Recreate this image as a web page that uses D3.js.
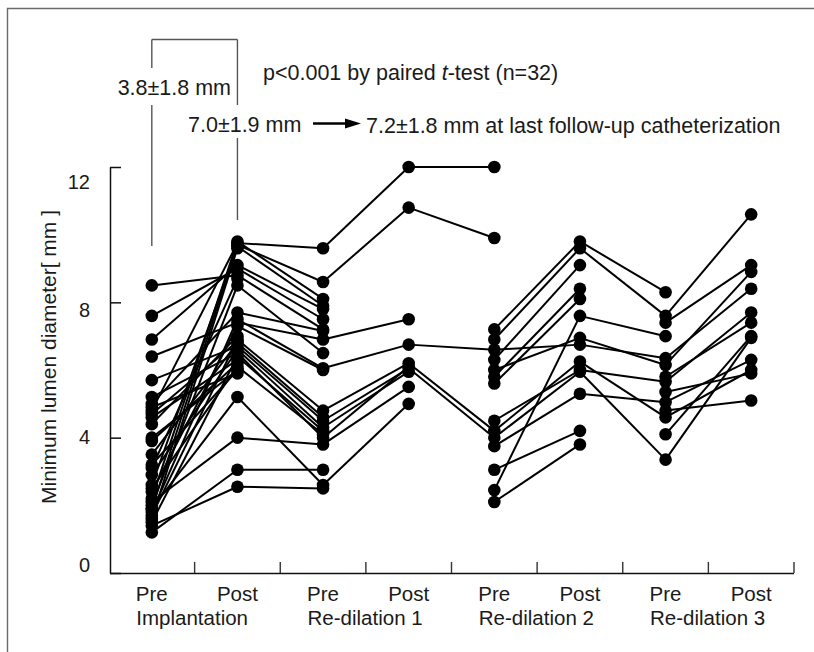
<!DOCTYPE html>
<html>
<head>
<meta charset="utf-8">
<script src="https://cdn.jsdelivr.net/npm/d3@7"></script>
<style>
  body { margin: 0; background: #fff; }
  text { font-family: "Liberation Sans", Arial, Helvetica, sans-serif; fill: #1a1a1a; }
</style>
</head>
<body>
<svg id="chart" width="814" height="652"></svg>
<script>
// categories on the x axis, one column per catheterization
const columns = ["preImplant", "postImplant", "preRedil1", "postRedil1", "preRedil2", "postRedil2", "preRedil3", "postRedil3"];
const phaseLabels = ["Pre", "Post", "Pre", "Post", "Pre", "Post", "Pre", "Post"];
const groupLabels = ["Implantation", "Re-dilation 1", "Re-dilation 2", "Re-dilation 3"];
const yTicks = [0, 4, 8, 12];

// minimum lumen diameter (mm), one entry per patient (n=32), null = no measurement
const preImplant  = [2.2, 4.8, 1.9, 2.6, 1.6, 6.9, 7.6, 8.5, 3.1, 2.0, 5.0, 1.8, 6.4, 2.4, 4.4, 1.7,
                     4.7, 3.5, 5.7, 2.9, 5.2, 1.5, 4.6, 3.9, 2.5, 4.0, 3.2, 4.9, 1.9, 2.1, 1.2, 1.4];
const postImplant = [9.8, 9.75, 9.7, 9.65, 9.6, 9.1, 9.0, 8.8, 8.7, 8.5, 7.7, 7.5, 7.4, 7.3, 7.0, 6.9,
                     6.85, 6.8, 6.7, 6.6, 6.5, 6.4, 6.3, 6.2, 6.1, 6.0, 6.0, 5.9, 5.2, 4.0, 3.05, 2.55];
const preRedil1   = [8.1, 9.6, 8.6, 7.9, null, 7.8, 7.5, 7.2, null, 6.5, 7.15, 6.05, 6.9, 6.0, null, 4.8,
                     null, 4.6, 4.5, 4.3, 4.0, 4.2, null, null, 4.1, null, null, null, 2.6, 3.8, 3.05, 2.5];
const postRedil1  = [null, 12.0, 10.8, null, null, null, null, null, null, null, null, 6.75, 7.5, null, null, 6.2,
                     null, null, 6.05, 5.95, 6.1, null, null, null, null, null, null, null, 5.0, 5.5, null, null];
const preRedil2   = [7.2, 12.0, 9.9, 6.9, 2.45, 6.0, 4.5, 3.75, 6.3, 5.8, 5.6, 6.6, null, 3.05, 2.1, 4.2,
                     null, null, 4.0, null, null, null, null, null, null, null, null, null, null, null, null, null];
const postRedil2  = [9.8, null, null, 9.6, 7.6, 6.95, 6.0, 5.3, 9.1, 8.4, 8.1, 6.75, null, 4.2, 3.8, 6.25,
                     null, null, 5.95, null, null, null, null, null, null, null, null, null, null, null, null, null];
const preRedil3   = [8.3, null, null, 7.6, 7.0, 6.15, 5.65, 5.05, null, null, null, 6.35, null, null, null, 4.6,
                     7.4, 5.8, 3.35, null, null, 5.35, 4.8, 4.1, null, null, null, null, null, null, null, null];
const postRedil3  = [null, null, null, 10.6, null, 8.9, 7.7, 6.3, null, null, null, 8.4, null, null, null, 6.0,
                     9.1, 7.4, 6.95, null, null, 5.9, 5.1, 7.0, null, null, null, null, null, null, null, null];

const series = [preImplant, postImplant, preRedil1, postRedil1, preRedil2, postRedil2, preRedil3, postRedil3];

const svg = d3.select("#chart");

// frame round the figure (only top and left show)
svg.append("path")
    .attr("d", "M7.5,660V8.5H820")
    .attr("fill", "none")
    .attr("stroke", "#6a6a6a")
    .attr("stroke-width", 1.4);

const x = d3.scaleBand().domain(columns).range([109, 794]);
const cx = c => x(c) + x.bandwidth() / 2;
const y = d3.scaleLinear().domain([0, 12]).range([573, 167]);
// tick labels sit on their own spacing in the original figure
const yLabel = d3.scaleLinear().domain([0, 12]).range([565, 181.5]);

// y axis, ticks pointing inward
svg.append("g")
    .attr("transform", "translate(110,0)")
    .call(d3.axisRight(y).tickValues(yTicks).tickSize(11).tickSizeOuter(0).tickFormat(""))
    .call(g => g.selectAll("path, line").attr("stroke", "#111").attr("stroke-width", 1.5));

svg.append("g").selectAll("text")
    .data(yTicks)
    .join("text")
    .attr("x", 90)
    .attr("y", d => yLabel(d))
    .attr("dy", "0.36em")
    .attr("text-anchor", "end")
    .attr("font-size", "20px")
    .text(d => d);

// x axis: labels at column centres, ticks on the column edges
const xAxis = svg.append("g")
    .attr("transform", "translate(0,573)")
    .call(d3.axisBottom(x).tickSize(0).tickSizeOuter(0).tickPadding(13.5)
        .tickFormat((d, i) => phaseLabels[i]));
xAxis.select(".domain").attr("stroke", "#111").attr("stroke-width", 1.5).attr("d", "M110,0.5H794");
xAxis.selectAll("text").attr("font-size", "20.5px").attr("font-family", null).style("fill", "#1a1a1a");

svg.append("g").selectAll("line")
    .data(columns)
    .join("line")
    .attr("x1", d => x(d) + x.bandwidth())
    .attr("x2", d => x(d) + x.bandwidth())
    .attr("y1", 573)
    .attr("y2", 562)
    .attr("stroke", "#333")
    .attr("stroke-width", 1.4);

svg.append("g").selectAll("text")
    .data(groupLabels)
    .join("text")
    .attr("x", (d, i) => cx(columns[i * 2]) - 15.5)
    .attr("y", 625)
    .attr("font-size", "20.5px")
    .text(d => d);

// y axis title
svg.append("text")
    .attr("transform", "translate(48,357) rotate(-90)")
    .attr("text-anchor", "middle")
    .attr("dy", "0.36em")
    .attr("font-size", "21px")
    .text("Minimum lumen diameter[ mm ]");

// patient lines between neighbouring columns
const segments = [];
for (let p = 0; p < preImplant.length; p++) {
    for (let k = 0; k < columns.length - 1; k++) {
        const a = series[k][p], b = series[k + 1][p];
        if (a != null && b != null) segments.push({ c0: columns[k], v0: a, c1: columns[k + 1], v1: b });
    }
}
svg.append("g").selectAll("line")
    .data(segments)
    .join("line")
    .attr("x1", d => cx(d.c0))
    .attr("y1", d => y(d.v0))
    .attr("x2", d => cx(d.c1))
    .attr("y2", d => y(d.v1))
    .attr("stroke", "#000")
    .attr("stroke-width", 2);

const dots = [];
series.forEach((vals, k) => vals.forEach(v => { if (v != null) dots.push({ c: columns[k], v: v }); }));
svg.append("g").selectAll("circle")
    .data(dots)
    .join("circle")
    .attr("cx", d => cx(d.c))
    .attr("cy", d => y(d.v))
    .attr("r", 6.3)
    .attr("fill", "#000");

// bracket with the mean values
const bx0 = cx("preImplant"), bx1 = cx("postImplant");
const bracket = [
    [bx0, 246, bx0, 105], [bx0, 68, bx0, 39.5], [bx0, 39.5, bx1, 39.5],
    [bx1, 39.5, bx1, 105], [bx1, 138, bx1, 220]
];
svg.append("g").selectAll("line")
    .data(bracket)
    .join("line")
    .attr("x1", d => d[0]).attr("y1", d => d[1])
    .attr("x2", d => d[2]).attr("y2", d => d[3])
    .attr("stroke", "#555")
    .attr("stroke-width", 1.4);

svg.append("text")
    .attr("x", 231).attr("y", 87).attr("dy", "0.36em")
    .attr("text-anchor", "end")
    .attr("font-size", "21.5px")
    .text("3.8\u00B11.8 mm");

const pText = svg.append("text")
    .attr("x", 263).attr("y", 72).attr("dy", "0.36em")
    .attr("font-size", "21.5px");
pText.append("tspan").text("p<0.001 by paired ");
pText.append("tspan").attr("font-style", "italic").text("t");
pText.append("tspan").text("-test (n=32)");

svg.append("text")
    .attr("x", 188).attr("y", 124).attr("dy", "0.36em")
    .attr("font-size", "21.5px")
    .text("7.0\u00B11.9 mm");

svg.append("line")
    .attr("x1", 313).attr("x2", 350).attr("y1", 123.5).attr("y2", 123.5)
    .attr("stroke", "#000").attr("stroke-width", 2.5);
svg.append("path")
    .attr("d", "M345,118.5L361,123.5L345,128.5Z")
    .attr("fill", "#000");

svg.append("text")
    .attr("x", 366).attr("y", 125).attr("dy", "0.36em")
    .attr("font-size", "21.5px")
    .text("7.2\u00B11.8 mm at last follow-up catheterization");
</script>
</body>
</html>
